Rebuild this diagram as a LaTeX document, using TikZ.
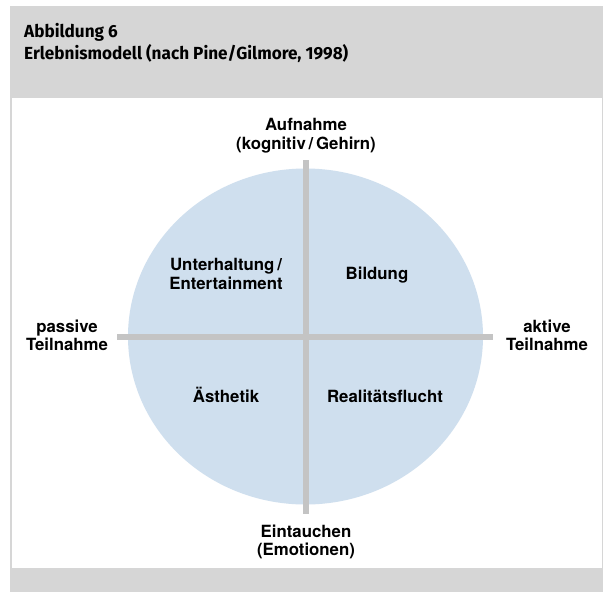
\documentclass[tikz,border=0pt]{standalone}
\usepackage{fontspec}
\setmainfont{TeX Gyre Heros}
\newfontfamily\capfont[FakeStretch=0.98]{Fira Sans}
\usetikzlibrary{positioning,calc,shapes.geometric}
\definecolor{panelgray}{HTML}{D6D6D6}
\definecolor{axisgray}{HTML}{C4C4C4}
\definecolor{discblue}{HTML}{CFDFEE}
\newcommand*{\capt}{\capfont\bfseries\fontsize{17.5}{21.5}\selectfont}

\begin{document}
\begin{tikzpicture}[x=1pt,y=-1pt,
  axis/.style={line width=6pt,axisgray},
  axtext/.style={align=center,inner sep=0pt,
    font=\bfseries\fontsize{16.8}{18.5}\selectfont}]
\useasboundingbox (0,0) rectangle (603,592);
% Grey frame with the white drawing area
\fill[panelgray] (10,6) rectangle (603,592);
\fill[white] (12,98) rectangle (602,568);
% Caption
\node[anchor=base west,inner sep=0pt,font=\capt] (fig) at (24,37.5) {Abbildung 6};
\node[anchor=base west,inner sep=0pt,font=\capt] (title) at (24,59)
  {Erlebnismodell (nach Pine/Gilmore, 1998)};
% Disc and the two axes
\node[ellipse,fill=discblue,inner sep=0pt,minimum width=355pt,
  minimum height=336pt] (disc) at (305.5,336.5) {};
\coordinate (top) at (306,160);
\coordinate (bot) at (306,514);
\coordinate (lft) at (117,337);
\coordinate (rgt) at (493,337);
\draw[axis] (top) -- (bot);
\draw[axis] (lft) -- (rgt);
% Axis ends (base = last line)
\node[axtext,anchor=base] (aufn) at (306,149) {Aufnahme\\(kognitiv\,/\,Gehirn)};
\node[axtext,anchor=base] (eint) at (306,555.5) {Eintauchen\\(Emotionen)};
\node[axtext,anchor=base] (pass) at (67,350.5) {passive\\Teilnahme};
\node[axtext,anchor=base] (akt) at (547,350.5) {aktive\\Teilnahme};
% Quadrants
\node[axtext,anchor=base] (unt) at (226,289) {Unterhaltung\,/\\Entertainment};
\node[axtext,anchor=base] (bild) at (377,279) {Bildung};
\node[axtext,anchor=base] (aest) at (226,402) {Ästhetik};
\node[axtext,anchor=base] (real) at (385,402) {Realitätsflucht};
\end{tikzpicture}
\end{document}
